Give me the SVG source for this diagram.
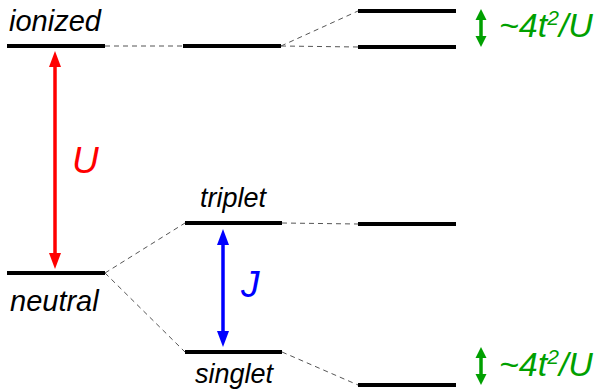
<svg xmlns="http://www.w3.org/2000/svg" width="599" height="389" viewBox="0 0 599 389">
<style>
.lvl{stroke:#000;stroke-width:4;fill:none}
.dash{stroke:#555;stroke-width:1;stroke-dasharray:5,4;fill:none}
.lbl{font-family:"Liberation Sans",Arial,sans-serif;font-style:italic;fill:#000}
.grn{font-family:"Liberation Sans",Arial,sans-serif;font-style:italic;fill:#00a000;font-size:34px}
</style>
<rect width="599" height="389" fill="#fff"/>
<g id="connectors">
<line class="dash" x1="105" y1="46" x2="183" y2="46"/>
<line class="dash" x1="281" y1="46" x2="358" y2="11"/>
<line class="dash" x1="281" y1="46" x2="358" y2="47"/>
<line class="dash" x1="105" y1="273" x2="185" y2="223"/>
<line class="dash" x1="105" y1="273" x2="185" y2="352"/>
<line class="dash" x1="282" y1="223" x2="358" y2="224"/>
<line class="dash" x1="282" y1="352" x2="358" y2="385"/>
</g>
<g id="ionized">
<line class="lvl" x1="7" y1="46" x2="105" y2="46"/>
<text class="lbl" x="9" y="31" font-size="29">ionized</text>
</g>
<g id="ionized-mid"><line class="lvl" x1="183" y1="46" x2="281" y2="46"/></g>
<g id="ionized-right-top"><line class="lvl" x1="358" y1="11" x2="456" y2="11"/></g>
<g id="ionized-right-bottom"><line class="lvl" x1="358" y1="47" x2="456" y2="47"/></g>
<g id="neutral">
<line class="lvl" x1="7" y1="273" x2="105" y2="273"/>
<text class="lbl" x="10" y="311" font-size="29">neutral</text>
</g>
<g id="triplet">
<line class="lvl" x1="185" y1="223" x2="282" y2="223"/>
<text class="lbl" x="200" y="207" font-size="27">triplet</text>
</g>
<g id="singlet">
<line class="lvl" x1="185" y1="352" x2="282" y2="352"/>
<text class="lbl" x="195" y="383" font-size="27">singlet</text>
</g>
<g id="triplet-right"><line class="lvl" x1="358" y1="224" x2="456" y2="224"/></g>
<g id="singlet-right"><line class="lvl" x1="358" y1="385" x2="456" y2="385"/></g>
<g id="U-arrow">
<line x1="55" y1="64" x2="55" y2="255" stroke="#ff0000" stroke-width="3.5"/>
<polygon points="55,51 49,67 61,67" fill="#ff0000"/>
<polygon points="55,269 49,253 61,253" fill="#ff0000"/>
<text x="72" y="173" font-family="Liberation Sans,Arial,sans-serif" font-style="italic" font-size="37" fill="#ff0000">U</text>
</g>
<g id="J-arrow">
<line x1="223" y1="242" x2="223" y2="334" stroke="#0000ff" stroke-width="3.5"/>
<polygon points="223,229 217,245 229,245" fill="#0000ff"/>
<polygon points="223,347 217,331 229,331" fill="#0000ff"/>
<text x="241" y="297" font-family="Liberation Sans,Arial,sans-serif" font-style="italic" font-size="37" fill="#0000ff">J</text>
</g>
<g id="split-top">
<line x1="481" y1="18" x2="481" y2="38" stroke="#00a000" stroke-width="3.5"/>
<polygon points="481,9 475.5,20 486.5,20" fill="#00a000"/>
<polygon points="481,47 475.5,36 486.5,36" fill="#00a000"/>
<text class="grn" x="499" y="37">~4t<tspan font-size="21" dy="-12">2</tspan><tspan dy="12">/U</tspan></text>
</g>
<g id="split-bottom">
<line x1="481" y1="356" x2="481" y2="376" stroke="#00a000" stroke-width="3.5"/>
<polygon points="481,347 475.5,358 486.5,358" fill="#00a000"/>
<polygon points="481,385 475.5,374 486.5,374" fill="#00a000"/>
<text class="grn" x="499" y="376">~4t<tspan font-size="21" dy="-12">2</tspan><tspan dy="12">/U</tspan></text>
</g>
</svg>
